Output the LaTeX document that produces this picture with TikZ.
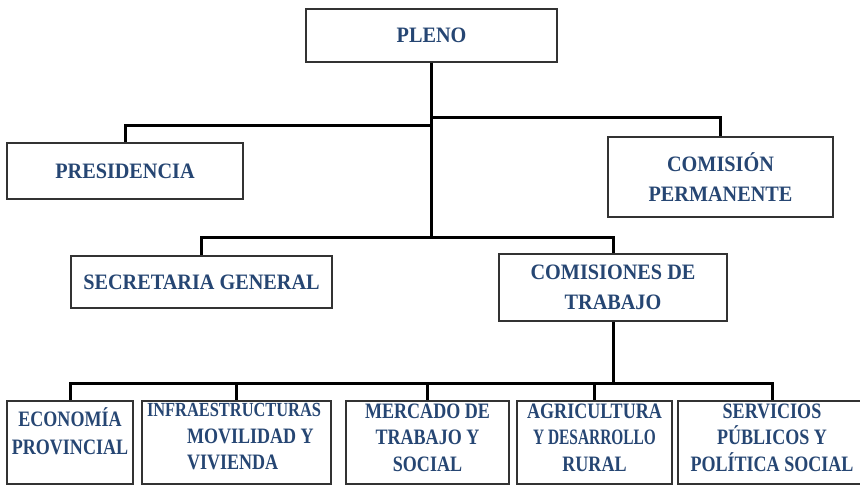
\documentclass[tikz,border=0pt]{standalone}
\usepackage{fontspec}
\setmainfont{Liberation Serif}
\newfontfamily\boxfont[FakeStretch=0.92]{Liberation Serif}
\newfontfamily\lowfont[FakeStretch=0.82]{Liberation Serif}
\newfontfamily\tightfont[FakeStretch=0.70]{Liberation Serif}
\definecolor{textblue}{RGB}{38,70,115}
\definecolor{boxgray}{RGB}{51,51,51}

% text of the boxes of the lowest row, set at the top of the box
\newcommand{\lowtext}[2]{\parbox[c][77pt][t]{#1}{\centering\lowfont\bfseries\fontsize{22}{26.5}\selectfont #2}}

\tikzset{
  unit/.style={draw=boxgray, line width=1.5pt, fill=white, text=textblue,
    font=\boxfont\bfseries\fontsize{22}{30}\selectfont, align=center, inner sep=3pt},
  commission/.style={unit, anchor=north},
  link/.style={line width=3pt, draw=black},
}

\begin{document}
\begin{tikzpicture}[x=1pt,y=-1pt]
        \useasboundingbox (0,0) rectangle (860,485);

        % the organs of the top
        \node[unit, minimum width=251, minimum height=53] (pleno) at (431.5,35.5) {PLENO};
        \node[unit, minimum width=236, minimum height=56] (presidencia) at (125,171) {PRESIDENCIA};
        \node[unit, minimum width=225, minimum height=80] (permanente) at (720.5,177) {COMISIÓN\\PERMANENTE};
        \node[unit, minimum width=261, minimum height=52] (secretaria) at (201.5,282) {SECRETARIA GENERAL};
        \node[unit, minimum width=228, minimum height=67] (comisiones) at (613,287.5) {COMISIONES DE\\TRABAJO};

        % the working commissions
        \node[commission] (economia) at (70,400) {\lowtext{120pt}{\vspace*{4pt}ECONOMÍA\\[1.5pt]PROVINCIAL}};
        \node[commission] (infra) at (236.5,400) {\parbox[c][77pt][t]{183pt}{\raggedright\lowfont\bfseries\fontsize{20}{26.5}\selectfont
            \hspace*{2pt}INFRAESTRUCTURAS\\
            \fontsize{22}{26.5}\selectfont\hspace*{42pt}MOVILIDAD Y\\
            \hspace*{42pt}VIVIENDA}};
        \node[commission] (mercado) at (427.5,400) {\lowtext{157pt}{MERCADO DE\\TRABAJO Y\\SOCIAL}};
        \node[commission] (agricultura) at (594.5,400) {\lowtext{149pt}{AGRICULTURA\\{\tightfont Y DESARROLLO}\\RURAL}};
        \node[commission] (servicios) at (772,400) {\lowtext{182pt}{SERVICIOS\\PÚBLICOS Y\\POLÍTICA SOCIAL}};

        % the connectors
        \draw[link] (pleno.south) -- ++(0,63) -| (presidencia.north);
        \draw[link] (pleno.south) -- ++(0,55) -| (permanente.north);
        \draw[link] (pleno.south) -- ++(0,175) -| (secretaria.north);
        \draw[link] (pleno.south) -- ++(0,175) -| (comisiones.north);
        \foreach \n in {economia,infra,mercado,agricultura,servicios}
                \draw[link] (comisiones.south) -- ++(0,62) -| (\n.north);
\end{tikzpicture}
\end{document}
